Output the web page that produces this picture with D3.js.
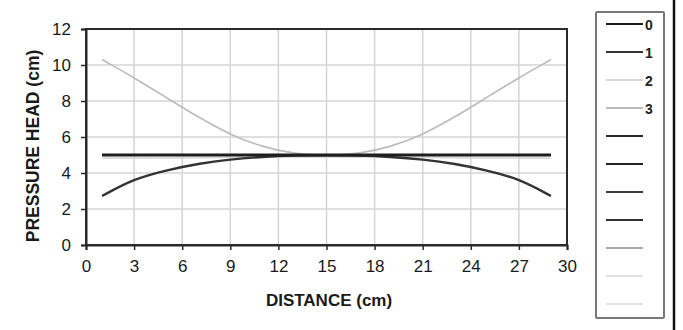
<!DOCTYPE html>
<html>
<head>
<meta charset="utf-8">
<script src="https://cdn.jsdelivr.net/npm/d3@7"></script>
<style>
  body { margin: 0; background: #fff; }
  svg { display: block; font-family: "Liberation Sans", Arial, sans-serif; }
</style>
</head>
<body>
<div id="chart"></div>
<script>
// data
const distance = [1, 3, 5, 7, 9, 11, 13, 15, 17, 19, 21, 23, 25, 27, 29];
const series0 = [5, 5, 5, 5, 5, 5, 5, 5, 5, 5, 5, 5, 5, 5, 5];
const series1 = [2.72, 3.68, 4.15, 4.52, 4.76, 4.9, 4.97, 5.0, 4.97, 4.9, 4.76, 4.52, 4.15, 3.68, 2.72];
const series2 = [4.82, 4.83, 4.84, 4.85, 4.86, 4.87, 4.88, 4.88, 4.88, 4.87, 4.86, 4.85, 4.84, 4.83, 4.82];
const series3 = [10.3, 9.3, 8.2, 7.1, 6.12, 5.45, 5.05, 4.95, 5.05, 5.45, 6.12, 7.1, 8.2, 9.3, 10.3];
const xTicks = [0, 3, 6, 9, 12, 15, 18, 21, 24, 27, 30];
const yTicks = [0, 2, 4, 6, 8, 10, 12];
const legendLabels = ["0", "1", "2", "3", "", "", "", "", "", "", ""];
const legendColors = ["#1e1e1e", "#333", "#d8d8d8", "#bcbcbc", "#2a2a2a", "#222", "#3a3a3a", "#2e2e2e", "#a8a8a8", "#e2e2e2", "#e2e2e2"];

const width = 683, height = 330;
const margin = {top: 29, left: 86, right: 116, bottom: 85};

const svg = d3.select("#chart").append("svg")
  .attr("width", width).attr("height", height);

const x = d3.scaleLinear().domain([0, 30]).range([margin.left, width - margin.right]);
const y = d3.scaleLinear().domain([0, 12]).range([height - margin.bottom, margin.top]);

// grid
svg.append("g").selectAll("line.v").data(xTicks.slice(1, -1)).join("line")
  .attr("x1", d => x(d)).attr("x2", d => x(d))
  .attr("y1", y(0)).attr("y2", y(12))
  .attr("stroke", "#d4d4d4").attr("stroke-width", 1.5);
svg.append("g").selectAll("line.h").data(yTicks.slice(1, -1)).join("line")
  .attr("x1", x(0)).attr("x2", x(30))
  .attr("y1", d => y(d)).attr("y2", d => y(d))
  .attr("stroke", "#d4d4d4").attr("stroke-width", 1.5);

// lines
const series = [
  {vals: series3, color: legendColors[3], w: 1.7},
  {vals: series2, color: legendColors[2], w: 1.7},
  {vals: series1, color: legendColors[1], w: 2.4},
  {vals: series0, color: legendColors[0], w: 2.8}
];
const line = d3.line().x((d, i) => x(distance[i])).y(d => y(d)).curve(d3.curveBasis);
svg.append("g").selectAll("path").data(series).join("path")
  .attr("d", d => line(d.vals))
  .attr("fill", "none").attr("stroke", d => d.color).attr("stroke-width", d => d.w);

// frame
svg.append("rect")
  .attr("x", x(0)).attr("y", y(12))
  .attr("width", x(30) - x(0)).attr("height", y(0) - y(12))
  .attr("fill", "none").attr("stroke", "#2a2a2a").attr("stroke-width", 2);

// axes
function xAxis(g) {
  g.attr("transform", `translate(0,${y(0)})`)
    .call(d3.axisBottom(x).tickValues(xTicks).tickSize(5).tickPadding(10))
    .call(g => g.select(".domain").attr("stroke", "#2a2a2a").attr("stroke-width", 2))
    .call(g => g.selectAll(".tick line").attr("stroke", "#2a2a2a").attr("stroke-width", 1.5))
    .call(g => g.selectAll("text").attr("font-size", 17).attr("fill", "#1a1a1a")
      .attr("font-family", "Liberation Sans, Arial, sans-serif"));
}
function yAxis(g) {
  g.attr("transform", `translate(${x(0)},0)`)
    .call(d3.axisLeft(y).tickValues(yTicks).tickSize(5).tickPadding(10))
    .call(g => g.select(".domain").attr("stroke", "#2a2a2a").attr("stroke-width", 2))
    .call(g => g.selectAll(".tick line").attr("stroke", "#2a2a2a").attr("stroke-width", 1.5))
    .call(g => g.selectAll("text").attr("font-size", 17).attr("fill", "#1a1a1a")
      .attr("font-family", "Liberation Sans, Arial, sans-serif"));
}
svg.append("g").call(xAxis);
svg.append("g").call(yAxis);

svg.append("text")
  .attr("x", 329).attr("y", 306)
  .attr("text-anchor", "middle").attr("font-size", 17).attr("font-weight", "bold")
  .attr("fill", "#1a1a1a").text("DISTANCE (cm)");
svg.append("text")
  .attr("transform", "translate(39,146) rotate(-90)")
  .attr("text-anchor", "middle").attr("font-size", 17.5).attr("font-weight", "bold")
  .attr("fill", "#1a1a1a").text("PRESSURE HEAD (cm)");

// legend
const legend = svg.append("g");
legend.append("rect")
  .attr("x", 596).attr("y", 12).attr("width", 68).attr("height", 306)
  .attr("fill", "#fff").attr("stroke", "#777").attr("stroke-width", 2).attr("rx", 1);
const ly = d3.scalePoint().domain(d3.range(legendLabels.length)).range([24, 304]);
const items = legend.selectAll("g").data(legendLabels).join("g")
  .attr("transform", (d, i) => `translate(0,${ly(i)})`);
items.append("line")
  .attr("x1", 606).attr("x2", 643)
  .attr("stroke", (d, i) => legendColors[i]).attr("stroke-width", 2.2);
items.append("text")
  .attr("x", 645).attr("y", 5.5).attr("font-size", 14).attr("font-weight", "bold")
  .attr("fill", "#222").text(d => d);

// right edge bar
svg.append("line")
  .attr("x1", 674).attr("x2", 674).attr("y1", 0).attr("y2", height)
  .attr("stroke", "#111").attr("stroke-width", 2.5);
</script>
</body>
</html>
